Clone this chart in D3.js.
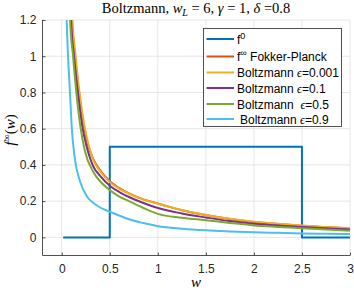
<!DOCTYPE html>
<html><head><meta charset="utf-8">
<script src="https://cdn.jsdelivr.net/npm/d3@7"></script>
<style>body{margin:0;background:#fff}svg{display:block}</style>
</head><body>
<svg id="c" width="354" height="291"></svg>
<script>
// ---- data ----
const xTicks = [0, 0.5, 1, 1.5, 2, 2.5, 3];
const yTicks = [0, 0.2, 0.4, 0.6, 0.8, 1, 1.2];
const seriesNames = ["f0", "fp", "b0001", "b01", "b05", "b09"];
const f0W = [0.015, 0.5, 0.5, 2.5, 2.5, 3.0];
const f0V = [0, 0, 0.5, 0.5, 0, 0];
const fpW = [0.095, 0.105, 0.14, 0.18, 0.23, 0.28, 0.33, 0.4, 0.5, 0.6, 0.7, 0.85, 1.0, 1.25, 1.5, 1.75, 2.0, 2.25, 2.5, 2.75, 3.0];
const fpV = [1.35, 1.2, 1.0, 0.8, 0.62, 0.5, 0.43, 0.37, 0.31, 0.272, 0.243, 0.21, 0.187, 0.15, 0.123, 0.101, 0.085, 0.074, 0.064, 0.056, 0.05];
const b0001W = [0.1, 0.112, 0.145, 0.185, 0.235, 0.285, 0.33, 0.4, 0.5, 0.6, 0.7, 0.85, 1.0, 1.25, 1.5, 1.75, 2.0, 2.25, 2.5, 2.75, 3.0];
const b0001V = [1.35, 1.2, 1.0, 0.8, 0.62, 0.5, 0.425, 0.365, 0.305, 0.268, 0.241, 0.209, 0.186, 0.151, 0.124, 0.103, 0.087, 0.075, 0.066, 0.057, 0.052];
const b01W = [0.09, 0.097, 0.128, 0.168, 0.215, 0.26, 0.33, 0.4, 0.5, 0.6, 0.7, 0.85, 1.0, 1.25, 1.5, 1.75, 2.0, 2.25, 2.5, 2.75, 3.0];
const b01V = [1.4, 1.2, 1.0, 0.8, 0.61, 0.5, 0.39, 0.34, 0.285, 0.25, 0.223, 0.19, 0.162, 0.132, 0.11, 0.09, 0.075, 0.066, 0.057, 0.05, 0.044];
const b05W = [0.08, 0.087, 0.118, 0.152, 0.195, 0.24, 0.33, 0.4, 0.5, 0.6, 0.7, 0.85, 1.0, 1.25, 1.5, 1.75, 2.0, 2.25, 2.5, 2.75, 3.0];
const b05V = [1.5, 1.2, 1.0, 0.8, 0.61, 0.48, 0.36, 0.31, 0.261, 0.225, 0.2, 0.162, 0.13, 0.109, 0.095, 0.08, 0.066, 0.058, 0.051, 0.043, 0.037];
const b09W = [0.045, 0.052, 0.066, 0.086, 0.104, 0.135, 0.19, 0.27, 0.33, 0.4, 0.5, 0.6, 0.7, 0.85, 1.0, 1.25, 1.5, 1.75, 2.0, 2.25, 2.5, 2.75, 3.0];
const b09V = [1.4, 1.2, 1.0, 0.8, 0.61, 0.44, 0.31, 0.22, 0.19, 0.165, 0.142, 0.12, 0.1, 0.079, 0.062, 0.048, 0.039, 0.033, 0.028, 0.025, 0.022, 0.02, 0.018];
const colors = ["#0072BD", "#D95319", "#EDB120", "#7E2F8E", "#77AC30", "#4DBEEE"];

// ---- chart ----
const svg = d3.select("#c");
const L = 42.5, R = 350, T = 20, B = 255.5;
const x = d3.scaleLinear().domain([-0.2, 3]).range([L, R]);
const y = d3.scaleLinear().domain([-0.1, 1.2]).range([B, T]);

// grid
const g = svg.append("g");
g.selectAll(".gx").data(xTicks).join("line")
  .attr("x1", d => x(d)).attr("x2", d => x(d)).attr("y1", T).attr("y2", B)
  .attr("stroke", "#e6e6e6").attr("stroke-width", 1);
g.selectAll(".gy").data(yTicks).join("line")
  .attr("y1", d => y(d)).attr("y2", d => y(d)).attr("x1", L).attr("x2", R)
  .attr("stroke", "#e6e6e6").attr("stroke-width", 1);

// axes
const font = "'Liberation Sans', Arial, Helvetica, sans-serif";
const ax = svg.append("g").attr("transform", `translate(0,${B})`)
  .call(d3.axisBottom(x).tickValues(xTicks).tickSize(-3).tickPadding(9).tickFormat(d3.format("~g")));
const ay = svg.append("g").attr("transform", `translate(${L},0)`)
  .call(d3.axisLeft(y).tickValues(yTicks).tickSize(-3).tickPadding(6).tickFormat(d3.format("~g")));
[ax, ay].forEach(a => {
  a.select(".domain").attr("stroke", "#262626").attr("stroke-width", 0.8);
  a.selectAll(".tick line").attr("stroke", "#262626").attr("stroke-width", 0.8);
  a.selectAll("text").attr("font-family", font).attr("font-size", 12).attr("fill", "#262626");
});
ax.select(".domain").attr("d", `M${L},0H${R}`);
ay.select(".domain").attr("d", `M0,${B}V${T}`);

// clip
svg.append("clipPath").attr("id", "clip").append("rect")
  .attr("x", L).attr("y", T).attr("width", R - L).attr("height", B - T);

const line = d3.line().x(d => x(d[0])).y(d => y(d[1]));
const smooth = d3.line().x(d => x(d[0])).y(d => y(d[1])).curve(d3.curveMonotoneX);
const series = [
  [f0W, f0V], [fpW, fpV], [b0001W, b0001V], [b01W, b01V], [b05W, b05V], [b09W, b09V]
].map(([w, v]) => w.map((d, i) => [d, v[i]]));

const pg = svg.append("g").attr("clip-path", "url(#clip)");
series.forEach((s, i) => {
  pg.append("path").attr("d", (i === 0 ? line : smooth)(s))
    .attr("fill", "none").attr("stroke", colors[i]).attr("stroke-width", 2)
    .attr("stroke-linejoin", "round");
});

// title
const serif = "'Liberation Serif', 'Times New Roman', serif";
const title = svg.append("text").attr("x", 196).attr("y", 13).attr("text-anchor", "middle")
  .attr("font-family", serif).attr("font-size", 14.5).attr("fill", "#000");
title.append("tspan").text("Boltzmann, ");
title.append("tspan").attr("font-style", "italic").text("w");
title.append("tspan").attr("font-style", "italic").attr("font-size", 10).attr("dy", 3).text("L");
title.append("tspan").attr("dy", -3).text(" = 6, ");
title.append("tspan").attr("font-style", "italic").text("γ");
title.append("tspan").text(" = 1, ");
title.append("tspan").attr("font-style", "italic").text("δ");
title.append("tspan").text(" =0.8");

// x label
svg.append("text").attr("x", 196).attr("y", 287).attr("text-anchor", "middle")
  .attr("font-family", serif).attr("font-style", "italic").attr("font-size", 15).text("w");

// y label
const yl = svg.append("text").attr("transform", "translate(15,130) rotate(-90)")
  .attr("text-anchor", "middle").attr("font-family", serif).attr("font-size", 15);
yl.append("tspan").attr("font-style", "italic").text("f");
yl.append("tspan").attr("font-size", 10).attr("dy", -5).text("∞");
yl.append("tspan").attr("dy", 5).text("(");
yl.append("tspan").attr("font-style", "italic").text("w");
yl.append("tspan").text(")");

// legend
const legendRows = [39, 56.5, 72.5, 88, 104, 119];
const lg = svg.append("g");
lg.append("rect").attr("x", 203.5).attr("y", 28.5).attr("width", 138).attr("height", 98)
  .attr("fill", "#fff").attr("stroke", "#262626").attr("stroke-width", 0.8);
legendRows.forEach((ry, i) => {
  lg.append("line").attr("x1", 206.5).attr("x2", 234).attr("y1", ry).attr("y2", ry)
    .attr("stroke", colors[i]).attr("stroke-width", 2);
  const t = lg.append("text").attr("x", i === 5 ? 240 : 237).attr("y", ry + 4.5)
    .attr("font-family", font).attr("font-size", 12).attr("fill", "#000");
  if (i === 0) {
    t.append("tspan").text("f");
    t.append("tspan").attr("font-size", 9).attr("dy", -5).text("0");
  } else if (i === 1) {
    t.append("tspan").text("f");
    t.append("tspan").attr("font-size", 9).attr("dy", -5).text("∞");
    t.append("tspan").attr("dy", 5).text(" Fokker-Planck");
  } else {
    const eps = ["0.001", "0.1", "0.5", "0.9"][i - 2];
    t.append("tspan").text(i === 4 ? "Boltzmann\u00a0\u00a0" : "Boltzmann ");
    t.append("tspan").attr("font-family", serif).attr("font-style", "italic").text("ϵ");
    t.append("tspan").text("=" + eps);
  }
});
</script>
</body></html>
